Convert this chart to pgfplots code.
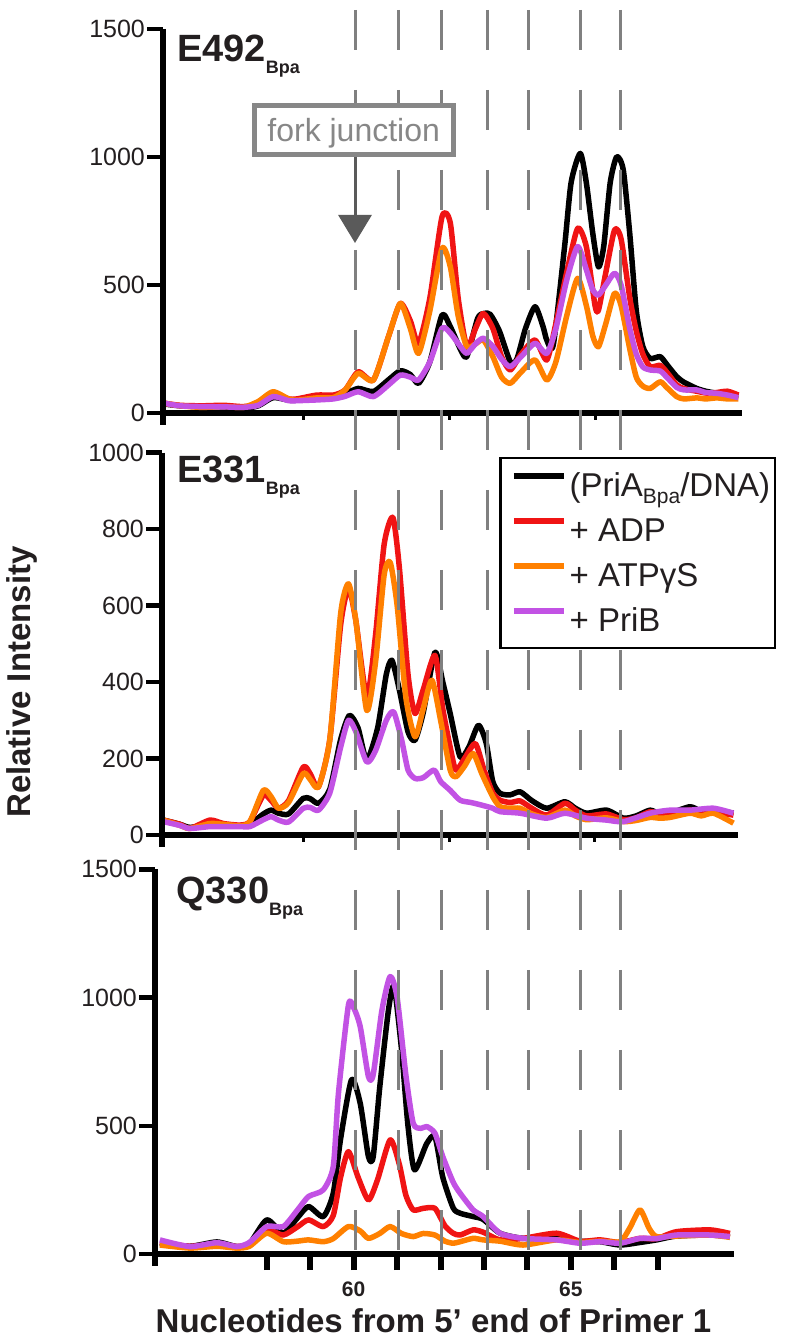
\documentclass[border=0pt]{standalone}
\usepackage{pgfplots}
\pgfplotsset{compat=1.18}
\usepackage{fontspec}
\setmainfont{Liberation Sans}
\usetikzlibrary{arrows.meta}

\definecolor{cRed}{RGB}{240,20,20}
\definecolor{cOrange}{RGB}{255,128,0}
\definecolor{cPurple}{RGB}{194,82,228}
\definecolor{dashgray}{RGB}{128,128,128}
\definecolor{boxgray}{RGB}{135,135,135}
\definecolor{arrowgray}{RGB}{90,90,90}
\definecolor{txt}{RGB}{35,31,32}

\tikzset{yspine/.style={line width=5.5pt, black}, ymark/.style={line width=4.5pt, black}}
\pgfplotsset{
  panel/.style={
    scale only axis, clip=false,
    axis x line=bottom, axis y line=left,
    axis line style={line width=5.5pt, -, black},
    ymin=0, tick align=outside, major tick length=16pt,
    tick style={line width=4.5pt, black},
    xtick style={line width=6pt, black},
    /pgf/number format/assume math mode=true,
    /pgf/number format/1000 sep={},
    yticklabel style={font=\fontsize{25}{28}\selectfont, text=txt, inner sep=2pt},
    xticklabel style={font=\fontsize{21}{24}\selectfont\bfseries, text=txt, yshift=-8pt},
    xtick=\empty,
  },
  trace/.style={line width=5.5pt, line join=round, smooth, tension=0.4, mark=none},
}

\begin{document}
\begin{tikzpicture}
\useasboundingbox (0pt,0pt) rectangle (787pt,1344pt);

% ---- top panel: E492
\begin{axis}[panel, at={(163.1pt,931pt)}, anchor=south west,
  width=579.2pt, height=384pt, xmin=55.61, xmax=68.94,
  ymax=1500, ytick={0,500,1000,1500}]
\addplot[trace, black] coordinates {(55.65,35)(56.0,28)(56.5,25)(57.0,24)(57.45,18)(57.8,28)(58.14,60)(58.5,50)(58.69,50)(59.15,55)(59.53,62)(59.8,75)(60.10,96)(60.45,84)(60.8,130)(61.07,165)(61.3,150)(61.49,116)(61.75,200)(62.03,383)(62.22,337)(62.45,250)(62.60,220)(62.85,370)(63.0,389)(63.14,385)(63.35,320)(63.60,200)(63.75,210)(63.95,330)(64.17,415)(64.35,340)(64.44,285)(64.59,266)(64.85,650)(65.0,900)(65.21,1014)(65.35,900)(65.5,700)(65.63,571)(65.75,650)(65.9,900)(66.05,1001)(66.2,950)(66.35,700)(66.5,400)(66.65,260)(66.82,213)(67.05,220)(67.2,190)(67.43,142)(67.6,120)(67.89,96)(68.1,85)(68.35,77)(68.6,70)(68.85,62)};
\addplot[trace, cRed] coordinates {(55.65,38)(56.0,30)(56.5,28)(57.0,30)(57.45,25)(57.8,35)(58.14,75)(58.5,55)(58.69,55)(59.15,70)(59.53,70)(59.8,90)(60.10,161)(60.45,129)(60.8,300)(61.07,428)(61.3,360)(61.49,272)(61.75,450)(62.03,767)(62.22,742)(62.4,450)(62.60,259)(62.8,330)(62.98,389)(63.2,330)(63.40,220)(63.60,168)(63.85,230)(64.17,285)(64.44,207)(64.65,350)(64.9,550)(65.15,721)(65.35,650)(65.55,420)(65.63,402)(65.8,550)(66.0,715)(66.15,680)(66.35,450)(66.5,320)(66.65,230)(66.82,181)(67.05,186)(67.2,160)(67.43,110)(67.6,95)(67.89,85)(68.1,78)(68.35,80)(68.6,85)(68.85,70)};
\addplot[trace, cOrange] coordinates {(55.65,38)(56.0,28)(56.5,22)(57.0,25)(57.45,22)(57.8,45)(58.14,83)(58.5,55)(58.69,50)(59.15,59)(59.53,60)(59.8,90)(60.10,155)(60.45,129)(60.8,300)(61.07,428)(61.3,330)(61.49,233)(61.75,400)(62.03,643)(62.22,571)(62.4,380)(62.60,259)(62.8,270)(62.98,285)(63.2,220)(63.40,140)(63.60,116)(63.85,160)(64.17,207)(64.44,129)(64.65,200)(64.9,380)(65.15,526)(65.35,420)(65.5,300)(65.63,259)(65.8,350)(66.0,468)(66.15,420)(66.35,250)(66.5,140)(66.65,105)(66.82,96)(67.05,122)(67.2,100)(67.43,64)(67.6,55)(67.89,59)(68.1,55)(68.35,59)(68.6,55)(68.85,55)};
\addplot[trace, cPurple] coordinates {(55.65,38)(56.0,28)(56.5,25)(57.0,24)(57.45,22)(57.8,30)(58.14,64)(58.5,48)(58.69,48)(59.15,51)(59.53,55)(59.8,65)(60.10,83)(60.45,64)(60.8,110)(61.07,148)(61.3,140)(61.49,129)(61.75,200)(62.03,331)(62.22,312)(62.45,260)(62.60,233)(62.8,270)(62.98,292)(63.2,260)(63.40,210)(63.60,181)(63.85,220)(64.17,272)(64.44,233)(64.65,330)(64.9,520)(65.15,650)(65.35,560)(65.5,480)(65.63,461)(65.8,500)(66.0,546)(66.15,500)(66.35,330)(66.5,230)(66.65,180)(66.82,168)(67.05,164)(67.2,140)(67.43,100)(67.6,90)(67.89,90)(68.1,80)(68.35,77)(68.6,70)(68.85,60)};
\draw[yspine] (rel axis cs:0,1) -- (rel axis cs:0,0) -- ++(canvas cs:x=0pt,y=-12pt);
\pgfplotsinvokeforeach{0,500,1000,1500}{\draw[ymark] ({rel axis cs:0,0}|-{axis cs:60,#1}) -- ++(canvas cs:x=-16pt,y=0pt);}
\pgfplotsinvokeforeach{58.85,62.2,65.55}{\draw[line width=3pt] (axis cs:#1,0) -- ++(canvas cs:x=0pt,y=-7pt);}
\end{axis}

% ---- bottom panel: Q330
\begin{axis}[panel, at={(155.1pt,90pt)}, anchor=south west,
  width=578.75pt, height=384.7pt, xmin=55.43, xmax=68.75,
  ymax=1500, ytick={0,500,1000,1500},
  xtick={58,59,60,61,62,63,64,65,66,67}, xticklabels={,,60,,,,,65,,}]
\addplot[trace, black] coordinates {(55.54,42)(56.23,30)(56.85,47)(57.31,29)(57.6,40)(58.0,133)(58.38,81)(58.7,140)(58.96,185)(59.30,146)(59.53,237)(59.7,450)(59.95,679)(60.15,588)(60.34,380)(60.45,380)(60.6,650)(60.80,950)(60.93,1043)(61.1,800)(61.25,500)(61.40,328)(61.68,430)(61.87,458)(62.05,300)(62.29,180)(62.45,159)(62.75,146)(62.98,135)(63.37,81)(63.90,61)(64.67,61)(65.21,50)(65.67,48)(66.13,35)(66.59,45)(66.97,55)(67.43,70)(68.20,74)(68.66,68)};
\addplot[trace, cRed] coordinates {(55.54,45)(56.23,30)(56.85,40)(57.31,29)(57.6,40)(58.0,94)(58.38,74)(58.7,105)(58.96,133)(59.30,107)(59.53,150)(59.7,300)(59.88,399)(60.1,300)(60.34,211)(60.55,290)(60.84,445)(61.05,350)(61.2,230)(61.37,172)(61.6,178)(61.87,178)(62.1,110)(62.29,81)(62.45,74)(62.75,94)(62.98,85)(63.37,55)(63.90,61)(64.67,81)(65.21,50)(65.67,55)(66.13,45)(66.59,61)(66.97,60)(67.43,87)(68.20,94)(68.66,80)};
\addplot[trace, cOrange] coordinates {(55.54,35)(56.23,23)(56.85,30)(57.31,23)(57.6,30)(58.0,81)(58.38,48)(58.7,50)(58.96,55)(59.30,48)(59.53,60)(59.88,107)(60.15,90)(60.34,61)(60.6,80)(60.84,107)(61.1,80)(61.37,68)(61.6,80)(61.87,74)(62.1,50)(62.29,42)(62.45,48)(62.75,61)(62.98,55)(63.37,50)(63.90,35)(64.67,55)(65.21,45)(65.67,50)(66.13,48)(66.35,100)(66.59,172)(66.8,100)(66.97,68)(67.43,70)(68.20,74)(68.66,65)};
\addplot[trace, cPurple] coordinates {(55.54,55)(56.23,29)(56.85,44)(57.31,29)(57.6,45)(58.0,107)(58.38,107)(58.7,170)(58.96,224)(59.30,250)(59.53,341)(59.65,627)(59.88,971)(60.0,960)(60.15,887)(60.34,692)(60.45,700)(60.65,950)(60.84,1082)(61.0,1000)(61.2,700)(61.37,510)(61.55,490)(61.68,497)(61.87,471)(62.05,380)(62.29,280)(62.45,237)(62.75,172)(62.98,146)(63.37,81)(63.90,61)(64.67,55)(65.21,42)(65.67,48)(66.13,42)(66.59,61)(66.97,60)(67.43,74)(68.20,74)(68.66,68)};
\draw[yspine] (rel axis cs:0,1) -- (rel axis cs:0,0) -- ++(canvas cs:x=0pt,y=-12pt);
\pgfplotsinvokeforeach{0,500,1000,1500}{\draw[ymark] ({rel axis cs:0,0}|-{axis cs:60,#1}) -- ++(canvas cs:x=-16pt,y=0pt);}
\end{axis}

% ---- middle panel: E331 (also carries the dashed guide lines and the legend)
\begin{axis}[panel, at={(162.1pt,509pt)}, anchor=south west,
  width=575.7pt, height=382.3pt, xmin=55.59, xmax=68.84,
  ymax=1000, ytick={0,200,400,600,800,1000},
  legend style={at={(1.067,0.990)}, anchor=north east, draw=black,
    line width=2.5pt, fill=white, inner sep=5pt, row sep=0pt,
    font=\fontsize{33}{38}\selectfont, text=txt,
    nodes={inner sep=0pt, text height=34pt, text depth=11pt},
    cells={anchor=west}},
  legend image code/.code={\path (0pt,0pt) (58.5pt,0pt);
    \draw[#1, line width=5.5pt] (5.5pt,9.5pt) -- (55.5pt,9.5pt);}]
\addplot[trace, black] coordinates {(55.62,39)(56.0,28)(56.23,20)(56.69,26)(57.38,24)(57.61,28)(57.92,55)(58.1,65)(58.27,57)(58.5,55)(58.84,96)(59.0,95)(59.19,83)(59.45,120)(59.7,250)(59.90,313)(60.1,280)(60.30,196)(60.55,280)(60.75,420)(60.88,457)(61.05,380)(61.25,270)(61.41,248)(61.6,320)(61.87,478)(62.05,400)(62.22,318)(62.45,204)(62.65,230)(62.87,287)(63.05,240)(63.2,140)(63.37,109)(63.6,105)(63.83,113)(64.1,90)(64.44,70)(64.86,87)(65.1,70)(65.36,57)(65.82,65)(66.21,44)(66.5,50)(66.82,65)(67.05,55)(67.28,57)(67.74,74)(68.0,62)(68.28,65)(68.74,57)};
\addlegendentry{(PriA\raisebox{-7pt}{\fontsize{21}{22}\selectfont Bpa}/DNA)}
\addplot[trace, cRed] coordinates {(55.62,39)(56.0,28)(56.23,17)(56.69,39)(57.0,30)(57.38,26)(57.61,35)(57.92,104)(58.1,90)(58.27,70)(58.5,90)(58.84,178)(59.0,160)(59.19,126)(59.45,250)(59.7,550)(59.88,645)(60.05,560)(60.30,361)(60.5,520)(60.7,760)(60.90,831)(61.05,700)(61.25,420)(61.41,318)(61.6,380)(61.87,470)(62.05,330)(62.22,230)(62.35,170)(62.55,200)(62.80,239)(63.0,170)(63.2,110)(63.37,91)(63.6,85)(63.83,89)(64.1,70)(64.44,52)(64.86,83)(65.1,65)(65.36,50)(65.82,55)(66.21,40)(66.5,45)(66.82,61)(67.05,55)(67.28,57)(67.74,65)(68.0,62)(68.28,60)(68.74,52)};
\addlegendentry{+ ADP}
\addplot[trace, cOrange] coordinates {(55.62,39)(56.0,25)(56.23,17)(56.69,30)(57.0,28)(57.38,24)(57.61,35)(57.92,117)(58.1,100)(58.27,70)(58.5,85)(58.84,161)(59.0,145)(59.19,126)(59.45,250)(59.7,580)(59.88,657)(60.05,560)(60.30,326)(60.5,450)(60.7,680)(60.84,713)(61.0,600)(61.2,360)(61.41,257)(61.6,330)(61.80,405)(62.0,300)(62.22,170)(62.35,152)(62.55,180)(62.75,213)(62.95,160)(63.2,100)(63.37,74)(63.6,70)(63.83,70)(64.1,55)(64.44,46)(64.86,65)(65.1,50)(65.36,40)(65.82,45)(66.21,35)(66.5,38)(66.82,46)(67.05,44)(67.28,46)(67.74,57)(68.0,50)(68.28,57)(68.74,31)};
\addlegendentry{+ ATPγS}
\addplot[trace, cPurple] coordinates {(55.62,35)(56.0,25)(56.23,17)(56.69,22)(57.0,22)(57.38,22)(57.61,22)(57.92,40)(58.1,48)(58.27,39)(58.5,34)(58.84,70)(59.0,72)(59.19,65)(59.45,110)(59.7,230)(59.88,300)(60.05,270)(60.30,191)(60.5,220)(60.75,300)(60.92,322)(61.1,250)(61.25,170)(61.41,148)(61.6,150)(61.85,170)(62.0,140)(62.22,117)(62.45,91)(62.7,85)(62.95,78)(63.2,70)(63.37,61)(63.83,57)(64.44,44)(64.86,57)(65.36,44)(65.82,39)(66.21,35)(66.82,57)(67.28,65)(67.74,65)(68.28,70)(68.74,57)};
\addlegendentry{+ PriB}
\draw[yspine] (rel axis cs:0,1) -- (rel axis cs:0,0) -- ++(canvas cs:x=0pt,y=-12pt);
\pgfplotsinvokeforeach{0,200,400,600,800,1000}{\draw[ymark] ({rel axis cs:0,0}|-{axis cs:60,#1}) -- ++(canvas cs:x=-16pt,y=0pt);}
\pgfplotsinvokeforeach{58.85,62.2,65.55}{\draw[line width=3pt] (axis cs:#1,0) -- ++(canvas cs:x=0pt,y=-7pt);}
\pgfplotsinvokeforeach{60.03,61.02,62.03,63.07,64.03,65.21,66.13}{%
  \draw[dashgray, line width=3pt, dash pattern=on 40pt off 40pt]
    (axis cs:#1,2158) -- (axis cs:#1,-1091);}
\end{axis}

% ---- panel labels
\node[anchor=base west, inner sep=0pt, text=txt, font=\fontsize{38}{40}\selectfont\bfseries]
  at (177pt,1282pt) {E492\raisebox{-12pt}{\fontsize{18}{20}\selectfont Bpa}};
\node[anchor=base west, inner sep=0pt, text=txt, font=\fontsize{38}{40}\selectfont\bfseries]
  at (177pt,861.3pt) {E331\raisebox{-12pt}{\fontsize{18}{20}\selectfont Bpa}};
\node[anchor=base west, inner sep=0pt, text=txt, font=\fontsize{38}{40}\selectfont\bfseries]
  at (176pt,440.7pt) {Q330\raisebox{-12pt}{\fontsize{18}{20}\selectfont Bpa}};

% ---- fork junction annotation
\draw[boxgray, line width=5pt, fill=white] (254pt,1189.8pt) rectangle (453.5pt,1238.5pt);
\node[anchor=base, inner sep=0pt, text=boxgray, font=\fontsize{32}{36}\selectfont]
  at (353.7pt,1202.3pt) {fork junction};
\draw[arrowgray, line width=3pt, -{Triangle[width=33pt,length=28pt]}]
  (355pt,1187pt) -- (355pt,1101pt);

% ---- axis titles
\node[rotate=90, inner sep=0pt, text=txt, font=\fontsize{33}{36}\selectfont\bfseries]
  at (22pt,662pt) {Relative Intensity};
\node[anchor=base, inner sep=0pt, text=txt, font=\fontsize{33}{36}\selectfont\bfseries]
  at (433.5pt,11pt) {Nucleotides from 5’ end of Primer 1};
\end{tikzpicture}
\end{document}
